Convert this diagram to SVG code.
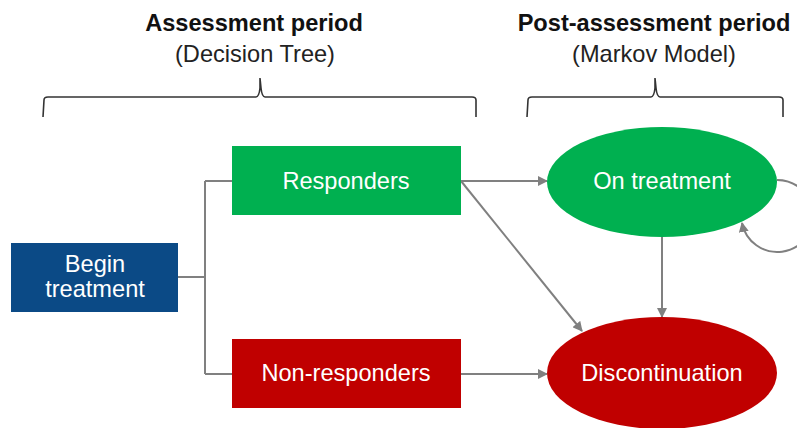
<svg xmlns="http://www.w3.org/2000/svg" width="797" height="428" viewBox="0 0 797 428">
<defs>
<style>
text{font-family:"Liberation Sans",Arial,sans-serif;font-size:23.6px;text-anchor:middle}
.title{font-weight:bold;fill:#111}
.sub{fill:#222}
.lbl{fill:#fff}
.conn{fill:none;stroke:#808080;stroke-width:2}
.brace{fill:none;stroke:#333;stroke-width:1.6}
</style>
<marker id="ah" viewBox="0 0 10 10" refX="9" refY="5" markerWidth="5" markerHeight="5" orient="auto" markerUnits="strokeWidth">
<path d="M0,0 L10,5 L0,10 z" fill="#808080"/>
</marker>
</defs>
<rect width="797" height="428" fill="#fff"/>
<g id="header-assessment">
<text class="title" x="254" y="31">Assessment period</text>
<text class="sub" x="255" y="62">(Decision Tree)</text>
<path class="brace" d="M43,117 L44,100 Q44,97 48,97 L256,97 Q259,97 260,88 L260,78 L261,88 Q262,97 265,97 L472,97 Q476,97 476,100 L476,117"/>
</g>
<g id="header-post">
<text class="title" x="654" y="31">Post-assessment period</text>
<text class="sub" x="654" y="62">(Markov Model)</text>
<path class="brace" d="M527,117 L528,100 Q528,97 532,97 L651,97 Q654,97 655,88 L655,78 L656,88 Q657,97 660,97 L779,97 Q783,97 783,100 L783,117"/>
</g>
<g id="connectors">
<path class="conn" d="M178,277 L205,277 M205,181 L205,374 M205,181 L232,181 M205,374 L232,374"/>
<path class="conn" d="M461,181 L547,181" marker-end="url(#ah)"/>
<path class="conn" d="M461,181 L582,331" marker-end="url(#ah)"/>
<path class="conn" d="M662,237 L662,317" marker-end="url(#ah)"/>
<path class="conn" d="M461,374 L547,374" marker-end="url(#ah)"/>
<path class="conn" d="M777,180 A36,36 0 1 1 742,223" marker-end="url(#ah)"/>
</g>
<g id="begin-treatment">
<rect x="11" y="243" width="167" height="69" fill="#0B4A86"/>
<text class="lbl" x="95" y="272">Begin</text>
<text class="lbl" x="95" y="297">treatment</text>
</g>
<g id="responders">
<rect x="232" y="146" width="229" height="69" fill="#00B050"/>
<text class="lbl" x="346" y="189">Responders</text>
</g>
<g id="non-responders">
<rect x="232" y="339" width="229" height="69" fill="#C00000"/>
<text class="lbl" x="346" y="381">Non-responders</text>
</g>
<g id="on-treatment">
<ellipse cx="662" cy="182" rx="115" ry="55" fill="#00B050"/>
<text class="lbl" x="662" y="189">On treatment</text>
</g>
<g id="discontinuation">
<ellipse cx="662" cy="373" rx="115" ry="56" fill="#C00000"/>
<text class="lbl" x="662" y="381">Discontinuation</text>
</g>
</svg>
